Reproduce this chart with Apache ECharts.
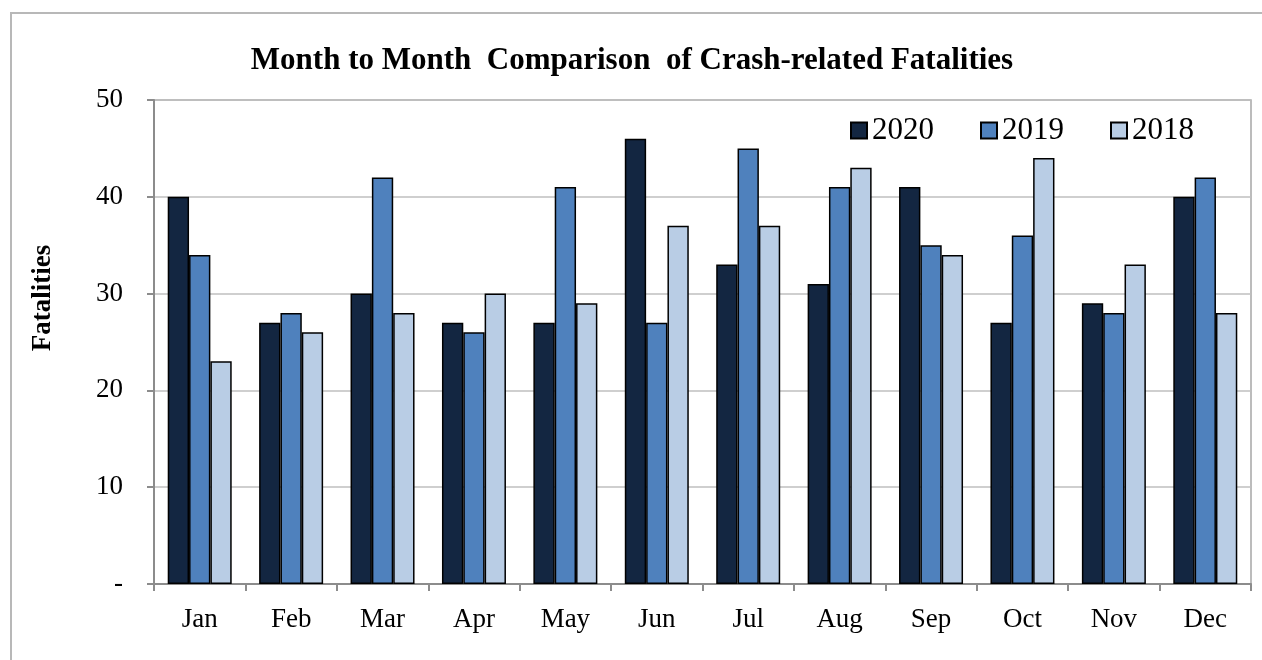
<!DOCTYPE html>
<html>
<head>
<meta charset="utf-8">
<script src="https://cdn.jsdelivr.net/npm/echarts@6/dist/echarts.min.js"></script>
<style>
  html, body { margin: 0; padding: 0; background: #fff; }
  #chart { width: 1262px; height: 660px; }
</style>
</head>
<body>
<div id="chart"></div>
<script>
var months = ['Jan', 'Feb', 'Mar', 'Apr', 'May', 'Jun', 'Jul', 'Aug', 'Sep', 'Oct', 'Nov', 'Dec'];
var data2020 = [40, 27, 30, 27, 27, 46, 33, 31, 41, 27, 29, 40];
var data2019 = [34, 28, 42, 26, 41, 27, 45, 41, 35, 36, 28, 42];
var data2018 = [23, 26, 28, 30, 29, 37, 37, 43, 34, 44, 33, 28];

var font = '"Liberation Serif", "Times New Roman", serif';
var chart = echarts.init(document.getElementById('chart'));

function bar(name, values, color) {
    return {
        name: name,
        type: 'bar',
        data: values,
        barGap: '0%',
        barCategoryGap: '30%',
        itemStyle: { color: color, borderColor: '#000', borderWidth: 1.5 }
    };
}

chart.setOption({
    animation: false,
    textStyle: { fontFamily: font, color: '#000' },
    title: {
        text: 'Month to Month  Comparison  of Crash-related Fatalities',
        left: 627,
        textAlign: 'center',
        top: 40,
        textStyle: { fontFamily: font, fontSize: 31, fontWeight: 'bold', color: '#000' }
    },
    legend: {
        left: 845,
        top: 110,
        itemWidth: 16,
        itemHeight: 16,
        itemGap: 46,
        icon: 'rect',
        textStyle: { fontFamily: font, fontSize: 31, color: '#000', padding: [0, 0, 0, 0] },
        data: ['2020', '2019', '2018']
    },
    graphic: [{
        type: 'rect',
        shape: { x: 11, y: 13, width: 1270, height: 700 },
        style: { fill: 'none', stroke: '#b8b8b8', lineWidth: 2 },
        silent: true
    }, {
        type: 'text',
        x: 43, y: 298,
        rotation: Math.PI / 2,
        style: {
            text: 'Fatalities',
            fontFamily: font, fontSize: 27, fontWeight: 'bold', fill: '#000',
            align: 'center', verticalAlign: 'middle'
        },
        silent: true
    }],
    grid: {
        left: 154, right: 11, top: 100, bottom: 76,
        show: true, borderColor: '#a6a6a6', borderWidth: 1.5
    },
    xAxis: {
        type: 'category',
        data: months,
        axisLine: { lineStyle: { color: '#8c8c8c', width: 2 } },
        axisTick: { show: true, length: 7, alignWithLabel: false, lineStyle: { color: '#8c8c8c', width: 2 } },
        axisLabel: { fontFamily: font, fontSize: 27, color: '#000', margin: 22 }
    },
    yAxis: {
        type: 'value',
        min: 0, max: 50, interval: 10,
        axisLine: { show: true, lineStyle: { color: '#8c8c8c', width: 2 } },
        axisTick: { show: true, length: 7, lineStyle: { color: '#8c8c8c', width: 2 } },
        splitLine: { lineStyle: { color: '#bfbfbf', width: 1.5 } },
        axisLabel: {
            fontFamily: font, fontSize: 27, color: '#000', margin: 31,
            formatter: function (v) { return v === 0 ? '-' : String(v); }
        }
    },
    series: [
        bar('2020', data2020, '#132641'),
        bar('2019', data2019, '#4f81bd'),
        bar('2018', data2018, '#b9cde5')
    ]
});
</script>
</body>
</html>
